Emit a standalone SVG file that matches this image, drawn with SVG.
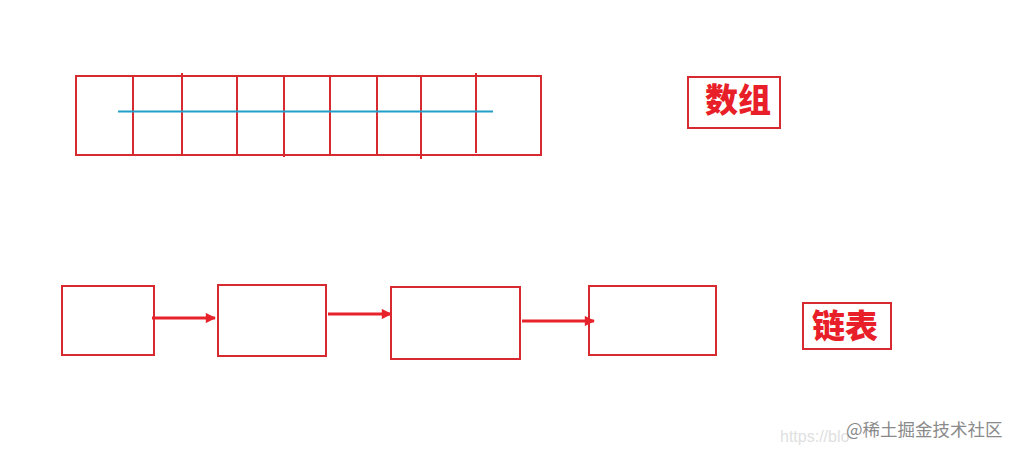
<svg xmlns="http://www.w3.org/2000/svg" width="1022" height="455" viewBox="0 0 1022 455">
<defs>
<style>
.box{fill:none;stroke:#d72a30;stroke-width:2}
.cell{stroke:#d72a30;stroke-width:2}
.lbl{font-family:"Noto Sans CJK SC",sans-serif;font-weight:900;font-size:33px;fill:#e81e28}
.arr{stroke:#e8222b;stroke-width:3;fill:none;marker-end:url(#ah)}
</style>
<marker id="ah" viewBox="0 0 10 10" refX="9" refY="5" markerWidth="4" markerHeight="3.4" orient="auto" markerUnits="strokeWidth">
<path d="M0,0 L10,5 L0,10 Z" fill="#e8222b"/>
</marker>
</defs>
<rect width="1022" height="455" fill="#ffffff"/>
<g id="array">
<rect class="box" x="76" y="76" width="465" height="79"/>
<line class="cell" x1="133" y1="76" x2="133" y2="155"/>
<line class="cell" x1="182" y1="73" x2="182" y2="155"/>
<line class="cell" x1="237" y1="76" x2="237" y2="155"/>
<line class="cell" x1="284" y1="76" x2="284" y2="157"/>
<line class="cell" x1="330" y1="76" x2="330" y2="155"/>
<line class="cell" x1="377" y1="76" x2="377" y2="155"/>
<line class="cell" x1="421" y1="76" x2="421" y2="159"/>
<line class="cell" x1="476" y1="73" x2="476" y2="153"/>
<line x1="118" y1="111.5" x2="493" y2="111.5" stroke="#22a0c8" stroke-width="2"/>
</g>
<g id="label-array">
<rect class="box" x="688" y="77" width="92" height="51"/>
<text class="lbl" x="738" y="112" text-anchor="middle">数组</text>
</g>
<g id="node1"><rect class="box" x="62" y="286" width="92" height="69"/></g>
<g id="node2"><rect class="box" x="218" y="285" width="108" height="71"/></g>
<g id="node3"><rect class="box" x="391" y="287" width="129" height="72"/></g>
<g id="node4"><rect class="box" x="589" y="286" width="127" height="69"/></g>
<g id="connectors">
<line class="arr" x1="152" y1="318" x2="215" y2="318"/>
<line class="arr" x1="328" y1="314" x2="391" y2="314"/>
<line class="arr" x1="522" y1="321" x2="594" y2="321"/>
</g>
<g id="label-list">
<rect class="box" x="803" y="303" width="88" height="46"/>
<text class="lbl" x="845" y="338" text-anchor="middle">链表</text>
</g>
<g id="watermark">
<text x="780" y="442" font-family="Liberation Sans,sans-serif" font-size="16" fill="#e0e0e0">https://blo</text>
<text x="846" y="436" font-family="'Noto Sans CJK SC',sans-serif" font-size="17.5" fill="#8a8a8a">@稀土掘金技术社区</text>
</g>
</svg>
